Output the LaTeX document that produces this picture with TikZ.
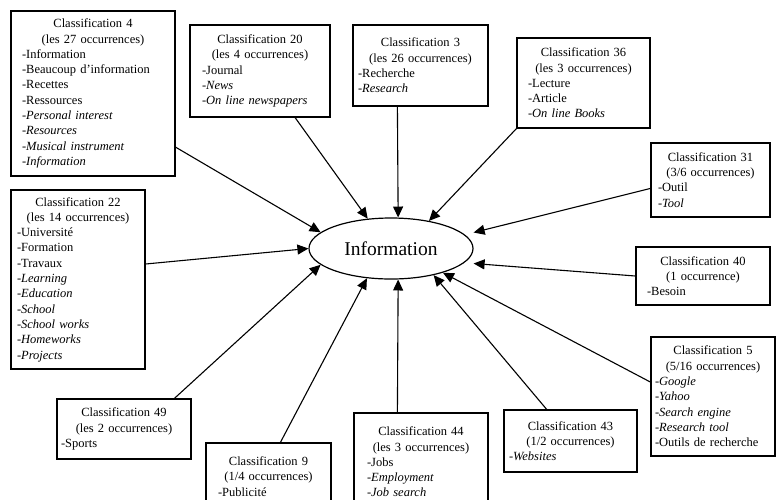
\documentclass[tikz,border=0pt]{standalone}
\usepackage{fontspec}
\setmainfont{Liberation Serif}
\usetikzlibrary{arrows.meta,shapes.geometric}

\begin{document}
\begin{tikzpicture}[x=1pt,y=-1pt,
  cls/.style={draw,line width=1.2pt,align=left,inner ysep=0pt,font=\fontsize{12.5}{15.3}\selectfont,execute at begin node={\setlength{\parindent}{0pt}}},
  conn/.style={arrows=-{Triangle[length=11pt,width=10pt]},line width=1.1pt}]
\path[use as bounding box,clip] (0,0) rectangle (781,499);
\node[draw,ellipse,line width=1.2pt,minimum width=164pt,minimum height=61pt,inner sep=0pt,font=\fontsize{19.5}{23}\selectfont] (info) at (391,248.5) {Information};
\node[cls,text width=142pt,inner xsep=11pt,minimum height=165pt] (c4) at (93,93.5) {{\centering Classification 4\par (les 27 occurrences)\par}-Information\par -Beaucoup d'information\par -Recettes\par -Ressources\par \textit{-Personal interest}\par \textit{-Resources}\par \textit{-Musical instrument}\par \textit{-Information}};
\node[cls,text width=116pt,inner xsep=12pt,minimum height=92pt] (c20) at (260,71) {{\centering Classification 20\par (les 4 occurrences)\par}-Journal\par \textit{-News}\par \textit{-On line newspapers}};
\node[cls,text width=125pt,inner xsep=5pt,minimum height=81pt] (c3) at (420.5,65.5) {{\centering Classification 3\par (les 26 occurrences)\par}-Recherche\par \textit{-Research}};
\node[cls,text width=111pt,inner xsep=11pt,minimum height=90pt] (c36) at (583.5,83) {{\centering Classification 36\par (les 3 occurrences)\par}-Lecture\par -Article\par \textit{-On line Books}};
\node[cls,text width=105pt,inner xsep=7pt,minimum height=74pt] (c31) at (710.5,180) {{\centering Classification 31\par (3/6 occurrences)\par}-Outil\par \textit{-Tool}};
\node[cls,text width=112pt,inner xsep=11pt,minimum height=58pt] (c40) at (703,276) {{\centering Classification 40\par (1 occurrence)\par}-Besoin};
\node[cls,text width=116pt,inner xsep=4pt,minimum height=119pt] (c5) at (713,396.5) {{\centering Classification 5\par (5/16 occurrences)\par}\textit{-Google}\par \textit{-Yahoo}\par \textit{-Search engine}\par \textit{-Research tool}\par -Outils de recherche};
\node[cls,text width=123pt,inner xsep=5pt,minimum height=62pt] (c43) at (570.5,441) {{\centering Classification 43\par (1/2 occurrences)\par}\textit{-Websites}};
\node[cls,text width=108pt,inner xsep=13pt,minimum height=98pt] (c44) at (421,462) {{\centering Classification 44\par (les 3 occurrences)\par}-Jobs\par \textit{-Employment}\par \textit{-Job search}};
\node[cls,text width=101pt,inner xsep=12pt,minimum height=67pt] (c9) at (268.5,476.5) {{\centering Classification 9\par (1/4 occurrences)\par}-Publicité};
\node[cls,text width=126pt,inner xsep=4pt,minimum height=60pt] (c49) at (124,429) {{\centering Classification 49\par (les 2 occurrences)\par}-Sports};
\node[cls,text width=122pt,inner xsep=6pt,minimum height=179pt] (c22) at (78,279.5) {{\centering Classification 22\par (les 14 occurrences)\par}-Université\par -Formation\par -Travaux\par \textit{-Learning}\par \textit{-Education}\par \textit{-School}\par \textit{-School works}\par \textit{-Homeworks}\par \textit{-Projects}};
\draw[conn] (c4.-33) -- (info.167);
\draw[conn] (c20.-53) -- (info.128);
\draw[conn] ([xshift=45pt]c3.south west) -- (info.77);
\draw[conn] (c36.south west) -- (info.36);
\draw[conn] (c31.-172) -- ([yshift=16pt]info.east);
\draw[conn] (c40.west) -- ([yshift=-15pt]info.east);
\draw[conn] (c5.167) -- (info.-25);
\draw[conn] (c43.127) -- (info.-32);
\draw[conn] ([xshift=44pt]c44.north west) -- (info.-77);
\draw[conn] ([xshift=75pt]c9.north west) -- (info.-129);
\draw[conn] ([xshift=118pt]c49.north west) -- (info.-167);
\draw[conn] ([yshift=15.5pt]c22.east) -- (info.west);
\end{tikzpicture}
\end{document}
